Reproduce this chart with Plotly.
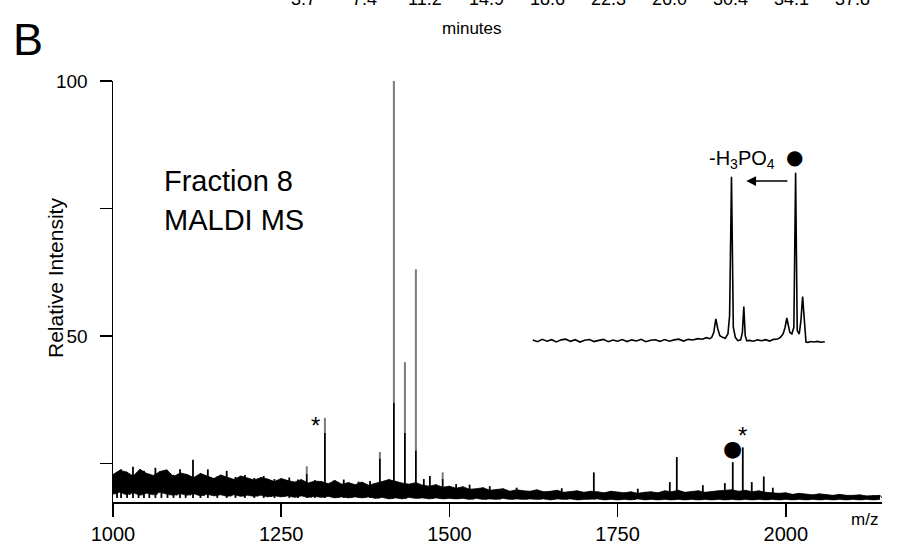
import plotly.graph_objects as go

FONT = "Liberation Sans, Arial, Helvetica, sans-serif"

# ---------------- data ----------------
# noise band envelope of the main MALDI spectrum (sampled every 10 m/z)
noise_mz = list(range(1000, 2141, 10))
noise_top = [
    22.9, 23.7, 23.4, 22.6, 23.9, 23.1, 22.7, 23.5, 23.8, 22.5, 23.2,
    22.9, 22.3, 23.1, 22.6, 22.1, 22.8, 22.4, 21.9, 22.6, 22.2,
    21.8, 22.3, 22.0, 21.5, 22.1, 21.7, 21.4, 21.9, 21.2, 21.6,
    21.5, 21.1, 21.7, 21.0, 21.3, 20.9, 21.4, 20.8, 21.1, 21.5,
    21.9, 21.5, 21.2, 21.0, 21.3, 20.8, 20.6, 20.9, 20.4, 20.6,
    20.2, 20.5, 20.0, 20.1, 20.3, 19.8, 19.9, 20.1, 19.6, 19.9,
    19.7, 19.6, 19.9, 19.5, 19.6, 19.8, 19.4, 19.5, 19.7, 19.4,
    19.6, 19.5, 19.3, 19.6, 19.4, 19.3, 19.5, 19.2, 19.4, 19.5,
    19.3, 19.7, 19.5, 19.8, 19.4, 19.5, 19.7, 19.4, 19.6, 19.7,
    19.8, 19.9, 19.6, 19.8, 19.5, 19.7, 19.4, 19.3, 19.2, 19.3,
    19.0, 19.2, 19.0, 18.9, 19.1, 18.9, 18.8, 19.0, 18.8, 18.8,
    18.9, 18.7, 18.8, 18.8,
]
noise_bottom = [
    19.0, 19.4, 18.9, 19.3, 18.8, 19.2, 18.9, 19.4, 19.0, 18.8, 19.1,
    18.8, 19.1, 18.7, 19.0, 18.7, 18.9, 18.6, 18.9, 18.6, 18.8,
    18.6, 18.8, 18.5, 18.7, 18.5, 18.7, 18.4, 18.7, 18.4, 18.6,
    18.4, 18.6, 18.3, 18.5, 18.3, 18.5, 18.3, 18.5, 18.2, 18.4,
    18.1, 18.3, 18.1, 18.4, 18.2, 18.3, 18.1, 18.3, 18.1, 18.2,
    18.1, 18.2, 18.0, 18.2, 18.0, 18.1, 18.0, 18.2, 18.0, 18.1,
    18.0, 18.1, 18.0, 18.1, 17.9, 18.1, 18.0, 18.1, 17.9, 18.0,
    18.0, 18.1, 17.9, 18.0, 17.9, 18.0, 17.9, 18.1, 17.9, 18.0,
    17.9, 18.0, 17.9, 18.0, 17.9, 18.0, 17.9, 18.0, 17.9, 18.0,
    17.9, 18.0, 17.9, 18.0, 17.9, 18.0, 17.9, 18.0, 17.9, 18.0,
    17.9, 18.0, 17.9, 18.0, 17.9, 18.0, 17.9, 18.0, 17.9, 18.0,
    17.9, 18.0, 17.9, 18.0,
]

# peaks of the main spectrum: m/z, full height (thin grey), dark lower part
peak_mz = [1006.0, 1012.0, 1021.0, 1029.7, 1038.0, 1046.0, 1054.0, 1063.0,
           1072.0, 1081.0, 1090.0, 1099.6, 1108.0, 1118.9, 1130.0, 1141.0,
           1155.0, 1169.0, 1182.0, 1196.0, 1210.0, 1224.0, 1240.0, 1262.0,
           1275.0, 1288.0, 1300.0, 1315.0, 1328.0, 1343.0, 1365.0, 1382.0,
           1396.7, 1417.5, 1433.9, 1450.2, 1462.0, 1471.0, 1490.0, 1510.0,
           1530.0, 1560.0, 1600.0, 1667.0, 1714.7, 1780.0, 1827.6, 1838.0,
           1876.7, 1909.4, 1921.2, 1936.1, 1949.4, 1967.3, 1980.7]
peak_top = [23.4, 23.9, 23.2, 24.4, 23.1, 23.6, 23.0, 24.2,
            22.9, 23.5, 22.8, 23.9, 22.7, 25.8, 22.6, 23.9,
            22.5, 23.6, 22.4, 22.8, 22.2, 22.6, 22.0, 22.3,
            21.9, 24.5, 21.8, 34.0, 21.7, 21.9, 21.5, 21.6,
            27.3, 100.0, 44.9, 63.1, 22.0, 22.6, 23.3, 21.0,
            20.9, 20.6, 20.3, 20.2, 23.3, 20.1, 21.4, 26.3,
            20.8, 21.2, 25.3, 28.2, 21.4, 22.5, 20.3]
peak_dark = [23.4, 23.9, 23.2, 24.4, 23.1, 23.6, 23.0, 24.2,
             22.9, 23.5, 22.8, 23.9, 22.7, 25.8, 22.6, 23.9,
             22.5, 23.6, 22.4, 22.8, 22.2, 22.6, 22.0, 22.3,
             21.9, 23.0, 21.8, 31.0, 21.7, 21.9, 21.5, 21.6,
             26.0, 36.9, 31.0, 27.6, 22.0, 22.6, 22.0, 21.0,
             20.9, 20.6, 20.3, 20.2, 23.3, 20.1, 21.4, 26.3,
             20.8, 21.2, 25.3, 28.2, 21.4, 22.5, 20.3]
peak_base = 18.3

# inset spectrum (same m/z scale, its own relative intensity)
inset_mz = [1624, 1631, 1638, 1645, 1652, 1659, 1666, 1673, 1680, 1687,
            1694, 1701, 1708, 1715, 1722, 1729, 1736, 1743, 1750, 1757,
            1764, 1771, 1778, 1785, 1792, 1799, 1806, 1813, 1820, 1827,
            1834, 1841, 1848, 1855, 1862, 1869, 1876, 1882, 1887, 1890,
            1893, 1896, 1899, 1902, 1906, 1910, 1914, 1916.5, 1919.3, 1922,
            1925, 1928.7, 1933, 1935.5, 1937.6, 1939.7, 1942, 1946, 1952, 1958,
            1964, 1970, 1976, 1982, 1988, 1992, 1996, 1999, 2001.5, 2004,
            2006, 2009, 2012, 2014.6, 2017, 2020, 2022.5, 2025, 2027.5, 2030,
            2033, 2037, 2042, 2047, 2052, 2058]
inset_int = [0.4, -0.6, 0.8, -0.3, 0.6, -0.7, 0.5, 0.9, -0.4, 0.6,
             -0.8, 0.3, 0.7, -0.5, 0.2, 0.8, -0.6, 0.4, -0.3, 0.7,
             -0.5, 0.5, -0.2, 0.8, -0.6, 0.3, 0.6, -0.4, 0.7, -0.3,
             0.5, 0.9, -0.2, 0.8, 0.4, 1.2, 0.9, 1.8, 1.2, 2.0,
             5.0, 13.0, 7.0, 3.0, 2.0, 1.5, 4.0, 15.0, 97.6, 8.0,
             2.0, 0.0, 0.5, 5.0, 20.4, 3.0, 0.0, 0.2, -0.3, 0.5,
             0.0, 0.6, -0.2, 0.8, 1.0, 2.0, 4.0, 8.0, 13.5, 9.0,
             5.0, 4.0, 8.0, 100.0, 6.0, 4.0, 12.0, 26.3, 10.0, -0.8,
             -1.0, -0.5, -0.8, -0.4, -0.9, -0.6]

# axis ticks
x_ticks = [1000, 1250, 1500, 1750, 2000]
y_ticks = [25, 50, 75, 100]
y_ticktext = ["", "50", "", "100"]

# retention time labels of the (cropped) chromatogram above
rt_labels = ["3.7", "7.4", "11.2", "14.9", "18.6", "22.3", "26.0", "30.4", "34.1", "37.8"]

# ---------------- geometry helpers ----------------
W, H = 909, 547
ML, MR, MT, MB = 113, 27, 81, 45
PW, PH = W - ML - MR, H - MT - MB


def px_x(p):
    return (p - ML) / PW


def px_y(p):
    return (H - MB - p) / PH


fig = go.Figure()

# noise band (filled envelope + ragged zig-zag between the read envelopes)
fig.add_trace(go.Scatter(x=noise_mz, y=noise_bottom, mode="lines",
                         line=dict(color="black", width=0.6), hoverinfo="skip"))
fig.add_trace(go.Scatter(x=noise_mz, y=noise_top, mode="lines", fill="tonexty",
                         fillcolor="black", line=dict(color="black", width=0.8),
                         hoverinfo="skip"))
zx, zy = [], []
for m, t, b in zip(noise_mz, noise_top, noise_bottom):
    zx += [m, m + 5]
    zy += [t, b]
fig.add_trace(go.Scatter(x=zx, y=zy, mode="lines", line=dict(color="black", width=1.0),
                         hoverinfo="skip"))

# peaks: dark lower parts and thin grey upper parts
gx, gy, dx, dy = [], [], [], []
for m, t, d in zip(peak_mz, peak_top, peak_dark):
    dx += [m, m, None]
    dy += [peak_base, d, None]
    if t > d:
        gx += [m, m, None]
        gy += [d, t, None]
fig.add_trace(go.Scatter(x=gx, y=gy, mode="lines", line=dict(color="#7a7a7a", width=2),
                         hoverinfo="skip"))
fig.add_trace(go.Scatter(x=dx, y=dy, mode="lines", line=dict(color="black", width=1.8),
                         hoverinfo="skip"))

# inset spectrum
fig.add_trace(go.Scatter(x=inset_mz, y=inset_int, xaxis="x", yaxis="y2", mode="lines",
                         line=dict(color="black", width=1.6), hoverinfo="skip"))

ann = []


def label(px, py, text, size, **kw):
    d = dict(x=px_x(px), y=px_y(py), xref="paper", yref="paper", text=text,
             showarrow=False, xanchor="center", yanchor="middle",
             font=dict(family=FONT, size=size, color="black"))
    d.update(kw)
    ann.append(d)


# inset labels
i_loss = inset_int.index(97.6)
i_par = inset_int.index(100.0)
ann.append(dict(x=inset_mz[i_par], y=inset_int[i_par], xref="x", yref="y2",
                xanchor="center", yanchor="middle",
                text="●", showarrow=False, yshift=16, xshift=-1,
                font=dict(family="DejaVu Sans", size=20, color="black")))
ann.append(dict(x=inset_mz[i_loss], y=inset_int[i_loss], xref="x", yref="y2",
                xanchor="center", yanchor="middle",
                text="-H<sub>3</sub>PO<sub>4</sub>", showarrow=False, yshift=17, xshift=10,
                font=dict(family=FONT, size=20, color="black")))
ann.append(dict(x=inset_mz[i_loss] + 22, y=95, xref="x", yref="y2",
                ax=inset_mz[i_par] - 10, ay=95, axref="x", ayref="y2",
                text="", showarrow=True, arrowhead=2, arrowsize=1.3, arrowwidth=1.5,
                arrowcolor="black"))

# main spectrum marks
i_dot = peak_mz.index(1921.2)
i_star2 = peak_mz.index(1936.1)
i_star1 = peak_mz.index(1315.0)
ann.append(dict(x=peak_mz[i_dot], y=peak_top[i_dot], xref="x", yref="y",
                xanchor="center", yanchor="middle",
                text="●", showarrow=False, yshift=14, xshift=0,
                font=dict(family="DejaVu Sans", size=22, color="black")))
ann.append(dict(x=peak_mz[i_star2], y=peak_top[i_star2], xref="x", yref="y",
                xanchor="center", yanchor="middle",
                text="*", showarrow=False, yshift=12, xshift=0,
                font=dict(family=FONT, size=24, color="black")))
ann.append(dict(x=peak_mz[i_star1], y=peak_top[i_star1], xref="x", yref="y",
                xanchor="center", yanchor="middle",
                text="*", showarrow=False, yshift=-8, xshift=-9,
                font=dict(family=FONT, size=24, color="black")))

# text labels
label(162, 181, "Fraction 8", 29, xanchor="left")
label(162, 220, "MALDI MS", 29, xanchor="left")
label(55, 278, "Relative Intensity", 21, textangle=-90)
label(864, 519, "m/z", 17)
label(28, 40, "B", 45)
label(472, 28, "minutes", 17)
for i, lab in enumerate(rt_labels):
    label(303 + 61 * i, -1, lab, 18)

fig.update_layout(
    template="none",
    width=W, height=H, autosize=False,
    margin=dict(l=ML, r=MR, t=MT, b=MB, autoexpand=False),
    paper_bgcolor="white", plot_bgcolor="rgba(0,0,0,0)",
    showlegend=False,
    font=dict(family=FONT, size=19, color="black"),
    xaxis=dict(range=[1000, 2143], tickvals=x_ticks, ticks="outside", ticklen=13,
               tickwidth=1.5, tickcolor="black", showline=True, linecolor="black",
               linewidth=2, showgrid=False, zeroline=False, automargin=False,
               tickfont=dict(family=FONT, size=20, color="black")),
    yaxis=dict(range=[17.5, 100], tickvals=y_ticks, ticktext=y_ticktext, ticks="outside",
               ticklen=12, tickwidth=1.5, tickcolor="black", showline=True,
               linecolor="black", linewidth=1.5, showgrid=False, zeroline=False,
               automargin=False,
               tickfont=dict(family=FONT, size=19, color="black"), ticklabelstandoff=8),
    yaxis2=dict(domain=[px_y(349.1), px_y(169.3)], range=[-5, 102], anchor="x",
                visible=False, showgrid=False, zeroline=False),
    annotations=ann,
)

fig.write_html("out.html", config={"displayModeBar": False, "staticPlot": True},
               post_script="document.body.style.margin='0';document.body.style.overflow='hidden';")
